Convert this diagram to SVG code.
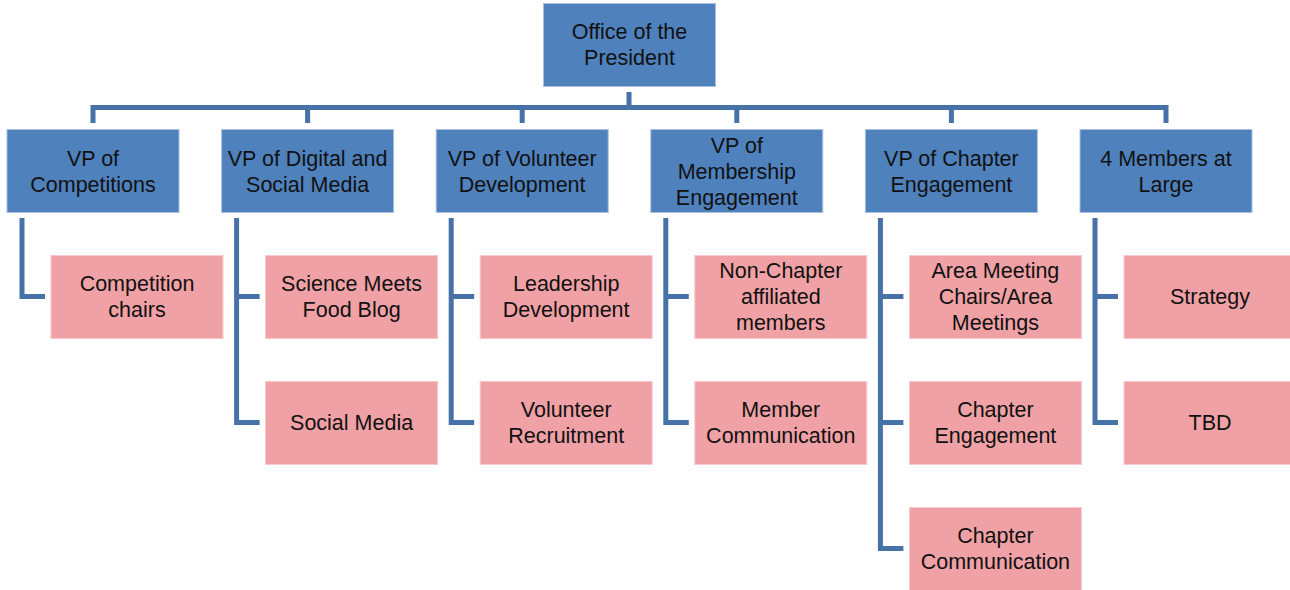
<svg xmlns="http://www.w3.org/2000/svg" width="1290" height="590" viewBox="0 0 1290 590">
<style>
.vp{fill:#4F81BD;stroke:#A9C0E0;stroke-width:1}
.ch{fill:#F0A1A5;stroke:#F7C9CB;stroke-width:1}
.t{font-family:"Liberation Sans",Arial,sans-serif;font-size:21.5px;fill:#111;text-anchor:middle}
.c{fill:none;stroke:#4672A8;stroke-width:5}
</style>
<rect width="1290" height="590" fill="#fff"/>
<g id="connectors">
<path class="c" d="M629,92V107.5M93,107.5H1166M93,105V123M307.6,105V123M522.2,105V123M736.8,105V123M951.4,105V123M1166,105V123"/>
<path class="c" d="M22,218V296.5H45"/>
<path class="c" d="M236.6,218V422.5H259.6M236.6,296.5H259.6"/>
<path class="c" d="M451.2,218V422.5H474.2M451.2,296.5H474.2"/>
<path class="c" d="M665.8,218V422.5H688.8M665.8,296.5H688.8"/>
<path class="c" d="M880.4,218V548.5H903.4M880.4,296.5H903.4M880.4,422.5H903.4"/>
<path class="c" d="M1095,218V422.5H1118M1095,296.5H1118"/>
</g>
<g id="president"><rect class="vp" x="543.5" y="3.5" width="172" height="83"/><text class="t"><tspan x="629.5" y="39">Office of the</tspan><tspan x="629.5" y="65">President</tspan></text></g>
<g id="vp-competitions"><rect class="vp" x="7" y="129.5" width="172" height="83"/><text class="t"><tspan x="93" y="165.5">VP of</tspan><tspan x="93" y="191.5">Competitions</tspan></text></g>
<g id="vp-digital"><rect class="vp" x="221.6" y="129.5" width="172" height="83"/><text class="t"><tspan x="307.6" y="165.5">VP of Digital and</tspan><tspan x="307.6" y="191.5">Social Media</tspan></text></g>
<g id="vp-volunteer"><rect class="vp" x="436.2" y="129.5" width="172" height="83"/><text class="t"><tspan x="522.2" y="165.5">VP of Volunteer</tspan><tspan x="522.2" y="191.5">Development</tspan></text></g>
<g id="vp-membership"><rect class="vp" x="650.8" y="129.5" width="172" height="83"/><text class="t"><tspan x="736.8" y="152.5">VP of</tspan><tspan x="736.8" y="178.5">Membership</tspan><tspan x="736.8" y="204.5">Engagement</tspan></text></g>
<g id="vp-chapter"><rect class="vp" x="865.4" y="129.5" width="172" height="83"/><text class="t"><tspan x="951.4" y="165.5">VP of Chapter</tspan><tspan x="951.4" y="191.5">Engagement</tspan></text></g>
<g id="members-at-large"><rect class="vp" x="1080" y="129.5" width="172" height="83"/><text class="t"><tspan x="1166" y="165.5">4 Members at</tspan><tspan x="1166" y="191.5">Large</tspan></text></g>
<g id="competition-chairs"><rect class="ch" x="51" y="255.5" width="172" height="83"/><text class="t"><tspan x="137" y="291">Competition</tspan><tspan x="137" y="317">chairs</tspan></text></g>
<g id="food-blog"><rect class="ch" x="265.6" y="255.5" width="172" height="83"/><text class="t"><tspan x="351.6" y="291">Science Meets</tspan><tspan x="351.6" y="317">Food Blog</tspan></text></g>
<g id="social-media"><rect class="ch" x="265.6" y="381.5" width="172" height="83"/><text class="t"><tspan x="351.6" y="430">Social Media</tspan></text></g>
<g id="leadership"><rect class="ch" x="480.2" y="255.5" width="172" height="83"/><text class="t"><tspan x="566.2" y="291">Leadership</tspan><tspan x="566.2" y="317">Development</tspan></text></g>
<g id="recruitment"><rect class="ch" x="480.2" y="381.5" width="172" height="83"/><text class="t"><tspan x="566.2" y="417">Volunteer</tspan><tspan x="566.2" y="443">Recruitment</tspan></text></g>
<g id="non-chapter"><rect class="ch" x="694.8" y="255.5" width="172" height="83"/><text class="t"><tspan x="780.8" y="278">Non-Chapter</tspan><tspan x="780.8" y="304">affiliated</tspan><tspan x="780.8" y="330">members</tspan></text></g>
<g id="member-comm"><rect class="ch" x="694.8" y="381.5" width="172" height="83"/><text class="t"><tspan x="780.8" y="417">Member</tspan><tspan x="780.8" y="443">Communication</tspan></text></g>
<g id="area-meeting"><rect class="ch" x="909.4" y="255.5" width="172" height="83"/><text class="t"><tspan x="995.4" y="278">Area Meeting</tspan><tspan x="995.4" y="304">Chairs/Area</tspan><tspan x="995.4" y="330">Meetings</tspan></text></g>
<g id="chapter-engagement"><rect class="ch" x="909.4" y="381.5" width="172" height="83"/><text class="t"><tspan x="995.4" y="417">Chapter</tspan><tspan x="995.4" y="443">Engagement</tspan></text></g>
<g id="chapter-comm"><rect class="ch" x="909.4" y="507.5" width="172" height="83"/><text class="t"><tspan x="995.4" y="543">Chapter</tspan><tspan x="995.4" y="569">Communication</tspan></text></g>
<g id="strategy"><rect class="ch" x="1124" y="255.5" width="172" height="83"/><text class="t"><tspan x="1210" y="304">Strategy</tspan></text></g>
<g id="tbd"><rect class="ch" x="1124" y="381.5" width="172" height="83"/><text class="t"><tspan x="1210" y="430">TBD</tspan></text></g>
</svg>
